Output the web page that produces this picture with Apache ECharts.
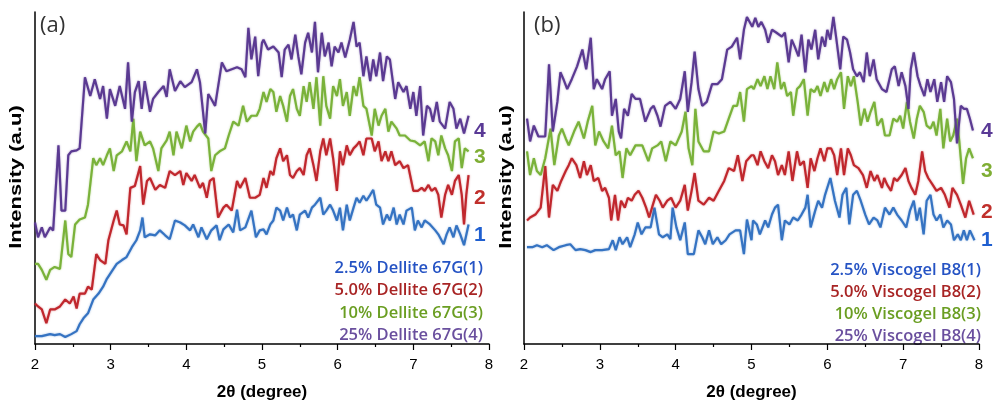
<!DOCTYPE html>
<html><head><meta charset="utf-8">
<script src="https://cdn.jsdelivr.net/npm/echarts@6/dist/echarts.min.js"></script>
<style>html,body{margin:0;padding:0;background:#fff}#c{width:994px;height:406px}</style>
</head><body><div id="c"></div>
<script>
// x ticks (degree)
const xTicks = [2, 3, 4, 5, 6, 7, 8];
const seriesNames = ['2.5% Dellite 67G(1)', '5.0% Dellite 67G(2)', '10% Dellite 67G(3)', '25% Dellite 67G(4)'];
const seriesNamesB = ['2.5% Viscogel B8(1)', '5.0% Viscogel B8(2)', '10% Viscogel B8(3)', '25% Viscogel B8(4)'];
const curveNums = ['1', '2', '3', '4'];

// Panel (a) — [2θ, intensity a.u.]
const a1 = [[2.00,8],[2.09,8],[2.20,10],[2.26,9],[2.33,10],[2.40,7],[2.48,10],[2.55,13],[2.59,20],[2.64,26],[2.70,31],[2.77,45],[2.84,51],[2.90,58],[2.95,66],[3.01,73],[3.08,81],[3.15,85],[3.21,88],[3.28,98],[3.34,105],[3.39,115],[3.42,128],[3.45,108],[3.52,111],[3.59,110],[3.65,115],[3.72,110],[3.78,106],[3.85,125],[3.92,123],[3.98,120],[4.05,115],[4.09,121],[4.16,108],[4.20,118],[4.27,106],[4.33,115],[4.40,120],[4.44,105],[4.49,116],[4.56,121],[4.62,113],[4.67,136],[4.71,115],[4.78,118],[4.86,135],[4.92,108],[4.97,115],[5.02,116],[5.06,111],[5.11,121],[5.15,125],[5.19,138],[5.24,135],[5.28,125],[5.33,138],[5.37,128],[5.41,131],[5.46,115],[5.50,131],[5.57,135],[5.61,128],[5.66,138],[5.70,141],[5.77,148],[5.81,131],[5.85,135],[5.90,141],[5.94,135],[5.99,125],[6.03,138],[6.07,115],[6.12,141],[6.16,125],[6.21,138],[6.25,148],[6.29,143],[6.34,150],[6.38,145],[6.43,151],[6.47,156],[6.51,141],[6.56,138],[6.60,121],[6.65,131],[6.69,125],[6.74,138],[6.78,121],[6.82,131],[6.87,121],[6.91,135],[6.98,138],[7.02,115],[7.06,125],[7.11,118],[7.15,125],[7.22,121],[7.29,115],[7.33,111],[7.40,101],[7.44,111],[7.48,118],[7.53,108],[7.57,120],[7.62,111],[7.67,100],[7.73,121]];
const a2 = [[2.00,41],[2.04,38],[2.09,35],[2.15,21],[2.20,35],[2.26,35],[2.33,38],[2.40,45],[2.46,41],[2.51,48],[2.55,36],[2.59,51],[2.66,51],[2.70,58],[2.75,55],[2.81,91],[2.86,85],[2.93,81],[2.97,105],[3.04,125],[3.08,135],[3.12,121],[3.17,120],[3.21,111],[3.26,158],[3.32,160],[3.39,180],[3.43,141],[3.48,165],[3.52,168],[3.59,156],[3.65,161],[3.72,158],[3.78,175],[3.85,171],[3.92,175],[3.96,161],[4.00,173],[4.07,165],[4.11,171],[4.18,158],[4.22,163],[4.27,148],[4.31,165],[4.36,168],[4.42,128],[4.49,138],[4.53,141],[4.60,135],[4.67,165],[4.71,158],[4.78,168],[4.84,148],[4.91,148],[4.97,151],[5.02,168],[5.06,158],[5.11,175],[5.15,171],[5.19,188],[5.24,198],[5.28,185],[5.33,191],[5.37,171],[5.41,168],[5.46,175],[5.50,178],[5.55,171],[5.59,191],[5.63,198],[5.68,181],[5.72,165],[5.77,195],[5.81,208],[5.85,191],[5.90,208],[5.94,188],[5.99,155],[6.03,195],[6.07,181],[6.12,201],[6.16,191],[6.21,198],[6.25,201],[6.29,205],[6.34,191],[6.38,208],[6.45,208],[6.49,195],[6.54,205],[6.58,185],[6.63,195],[6.67,185],[6.71,195],[6.76,181],[6.82,185],[6.87,178],[6.93,181],[7.00,155],[7.06,155],[7.11,158],[7.15,155],[7.20,161],[7.24,155],[7.29,158],[7.33,151],[7.37,128],[7.42,151],[7.46,161],[7.51,151],[7.55,165],[7.60,171],[7.64,151],[7.67,121],[7.70,151],[7.73,171]];
const a3 = [[2.00,81],[2.04,81],[2.09,75],[2.15,65],[2.20,75],[2.26,78],[2.33,76],[2.40,125],[2.44,91],[2.48,88],[2.53,121],[2.59,126],[2.66,128],[2.70,141],[2.77,188],[2.81,181],[2.86,188],[2.90,181],[2.95,191],[2.99,198],[3.04,175],[3.08,191],[3.15,195],[3.21,205],[3.26,195],[3.30,228],[3.34,185],[3.39,215],[3.45,201],[3.52,205],[3.56,198],[3.63,175],[3.67,198],[3.74,206],[3.78,215],[3.83,191],[3.87,215],[3.94,198],[4.00,221],[4.05,205],[4.09,215],[4.14,220],[4.18,223],[4.22,215],[4.29,208],[4.33,175],[4.38,191],[4.44,195],[4.51,198],[4.56,211],[4.62,225],[4.69,221],[4.75,241],[4.80,225],[4.86,231],[4.93,231],[4.97,238],[5.02,255],[5.06,245],[5.11,258],[5.15,255],[5.19,235],[5.24,251],[5.28,241],[5.33,225],[5.37,251],[5.41,258],[5.46,238],[5.50,231],[5.55,261],[5.59,245],[5.63,265],[5.68,238],[5.72,270],[5.77,221],[5.81,271],[5.85,241],[5.90,228],[5.94,261],[5.99,251],[6.03,268],[6.07,241],[6.12,255],[6.16,231],[6.21,261],[6.25,251],[6.29,270],[6.34,241],[6.38,238],[6.45,211],[6.49,238],[6.54,221],[6.58,231],[6.63,238],[6.67,215],[6.71,225],[6.78,218],[6.82,211],[6.89,211],[6.96,206],[7.02,205],[7.09,201],[7.15,205],[7.20,185],[7.24,208],[7.29,205],[7.33,191],[7.37,211],[7.42,198],[7.46,191],[7.51,175],[7.55,205],[7.60,208],[7.64,178],[7.68,198],[7.73,195]];
const a4 = [[2.00,123],[2.04,108],[2.09,118],[2.13,108],[2.20,118],[2.24,115],[2.31,201],[2.35,135],[2.40,135],[2.44,191],[2.48,195],[2.55,196],[2.59,198],[2.66,270],[2.73,251],[2.79,268],[2.86,248],[2.90,261],[2.95,228],[2.99,258],[3.06,241],[3.12,261],[3.19,238],[3.23,285],[3.28,225],[3.32,255],[3.37,266],[3.41,238],[3.45,266],[3.52,235],[3.56,248],[3.63,255],[3.70,261],[3.74,250],[3.78,278],[3.85,256],[3.92,266],[3.98,260],[4.07,265],[4.14,278],[4.18,265],[4.25,213],[4.29,253],[4.33,248],[4.38,241],[4.47,285],[4.53,276],[4.60,278],[4.67,280],[4.73,278],[4.78,270],[4.82,320],[4.86,288],[4.91,311],[4.95,271],[5.00,305],[5.02,308],[5.08,298],[5.15,301],[5.22,295],[5.26,270],[5.30,298],[5.35,303],[5.39,288],[5.44,313],[5.48,291],[5.52,273],[5.57,305],[5.61,315],[5.66,295],[5.70,326],[5.74,275],[5.79,315],[5.83,291],[5.88,305],[5.92,281],[5.96,301],[6.01,295],[6.05,305],[6.10,290],[6.16,308],[6.21,326],[6.25,301],[6.29,305],[6.34,271],[6.38,291],[6.43,266],[6.47,288],[6.51,271],[6.56,295],[6.60,266],[6.65,291],[6.69,288],[6.76,248],[6.80,265],[6.87,255],[6.91,261],[6.96,238],[7.00,255],[7.04,231],[7.09,261],[7.13,211],[7.18,241],[7.22,238],[7.26,225],[7.31,245],[7.35,225],[7.42,218],[7.48,245],[7.53,238],[7.57,218],[7.62,228],[7.67,213],[7.73,231]];

// Panel (b)
const b1 = [[2.04,98],[2.11,98],[2.17,100],[2.24,98],[2.30,100],[2.39,95],[2.46,98],[2.55,100],[2.61,101],[2.68,95],[2.74,96],[2.81,95],[2.88,93],[2.94,95],[3.03,95],[3.12,96],[3.17,105],[3.21,95],[3.26,108],[3.30,101],[3.36,108],[3.40,98],[3.46,111],[3.50,123],[3.55,111],[3.60,118],[3.67,118],[3.72,138],[3.78,111],[3.83,108],[3.89,111],[3.93,106],[3.96,138],[4.01,118],[4.06,105],[4.12,123],[4.16,91],[4.24,91],[4.30,115],[4.35,108],[4.39,101],[4.44,115],[4.49,101],[4.55,108],[4.60,101],[4.66,105],[4.71,111],[4.79,115],[4.85,115],[4.90,91],[4.94,126],[5.00,105],[5.02,125],[5.07,121],[5.11,111],[5.18,125],[5.22,118],[5.27,131],[5.31,138],[5.35,141],[5.40,105],[5.44,125],[5.50,121],[5.55,128],[5.61,125],[5.66,131],[5.71,138],[5.74,151],[5.78,118],[5.84,135],[5.88,145],[5.93,138],[5.97,151],[6.04,168],[6.10,145],[6.16,128],[6.20,151],[6.25,158],[6.29,121],[6.34,151],[6.39,155],[6.44,145],[6.50,131],[6.55,121],[6.61,128],[6.66,125],[6.70,118],[6.76,138],[6.82,131],[6.87,138],[6.92,131],[6.98,125],[7.04,118],[7.09,135],[7.14,145],[7.18,125],[7.22,138],[7.27,111],[7.31,145],[7.36,151],[7.40,131],[7.44,125],[7.49,131],[7.53,118],[7.58,125],[7.63,121],[7.67,105],[7.72,111],[7.76,105],[7.80,115],[7.84,105],[7.88,115],[7.94,105]];
const b2 = [[2.04,125],[2.08,128],[2.15,131],[2.22,138],[2.28,180],[2.33,128],[2.38,161],[2.44,155],[2.49,165],[2.55,175],[2.59,181],[2.63,188],[2.69,181],[2.74,168],[2.79,185],[2.83,171],[2.88,181],[2.92,165],[2.98,168],[3.03,155],[3.07,158],[3.12,148],[3.15,125],[3.20,151],[3.24,125],[3.28,145],[3.33,138],[3.37,148],[3.42,145],[3.46,151],[3.51,155],[3.56,148],[3.61,138],[3.65,128],[3.70,141],[3.74,151],[3.79,145],[3.83,138],[3.89,145],[3.94,148],[4.00,138],[4.06,145],[4.12,161],[4.16,135],[4.21,155],[4.25,173],[4.30,145],[4.37,141],[4.44,148],[4.50,145],[4.57,155],[4.64,165],[4.70,178],[4.77,175],[4.82,191],[4.88,165],[4.93,185],[5.00,191],[5.03,191],[5.08,181],[5.12,195],[5.17,185],[5.22,178],[5.27,191],[5.31,185],[5.35,171],[5.40,181],[5.44,171],[5.49,195],[5.54,165],[5.60,195],[5.64,181],[5.69,185],[5.74,158],[5.78,188],[5.83,175],[5.87,188],[5.91,198],[5.96,185],[6.00,198],[6.05,198],[6.09,191],[6.13,171],[6.18,198],[6.22,171],[6.27,198],[6.31,191],[6.35,181],[6.41,178],[6.47,171],[6.52,158],[6.57,175],[6.62,165],[6.66,171],[6.72,158],[6.75,168],[6.79,161],[6.84,155],[6.88,168],[6.92,165],[6.98,171],[7.03,178],[7.07,165],[7.11,158],[7.16,151],[7.20,165],[7.25,195],[7.29,175],[7.33,168],[7.39,161],[7.44,155],[7.50,158],[7.55,151],[7.61,138],[7.65,158],[7.71,151],[7.76,141],[7.82,128],[7.87,145],[7.93,131]];
const b3 = [[2.04,195],[2.08,171],[2.13,188],[2.17,175],[2.22,171],[2.28,188],[2.35,218],[2.40,181],[2.46,211],[2.50,218],[2.55,208],[2.59,201],[2.66,215],[2.72,225],[2.79,208],[2.84,225],[2.90,241],[2.94,201],[2.99,215],[3.05,205],[3.11,198],[3.16,221],[3.21,191],[3.26,195],[3.30,168],[3.35,198],[3.40,191],[3.47,201],[3.56,201],[3.64,185],[3.69,198],[3.76,201],[3.81,205],[3.87,185],[3.93,205],[4.00,201],[4.08,215],[4.13,235],[4.17,198],[4.22,181],[4.26,238],[4.30,205],[4.37,195],[4.44,195],[4.50,215],[4.57,213],[4.64,215],[4.70,228],[4.76,241],[4.81,241],[4.85,255],[4.90,225],[4.94,258],[5.00,261],[5.03,258],[5.08,268],[5.12,261],[5.17,271],[5.21,258],[5.25,271],[5.30,258],[5.34,285],[5.39,258],[5.43,265],[5.47,251],[5.52,255],[5.55,231],[5.60,258],[5.64,261],[5.69,268],[5.74,231],[5.78,258],[5.83,255],[5.87,261],[5.91,251],[5.96,265],[6.00,255],[6.05,268],[6.09,258],[6.13,268],[6.18,275],[6.22,238],[6.27,271],[6.31,261],[6.35,271],[6.40,245],[6.44,221],[6.49,238],[6.53,225],[6.57,235],[6.62,245],[6.66,221],[6.72,228],[6.76,211],[6.82,211],[6.87,228],[6.92,225],[6.96,231],[7.00,218],[7.05,245],[7.09,225],[7.14,208],[7.18,228],[7.22,241],[7.27,235],[7.31,221],[7.36,218],[7.40,225],[7.44,211],[7.49,238],[7.53,198],[7.58,228],[7.62,205],[7.66,211],[7.71,228],[7.74,205],[7.79,162],[7.83,188],[7.87,198],[7.92,188]];
const b4 = [[2.04,228],[2.08,205],[2.13,221],[2.19,210],[2.28,210],[2.33,283],[2.38,215],[2.44,245],[2.48,275],[2.52,268],[2.57,258],[2.63,268],[2.70,281],[2.77,298],[2.82,278],[2.88,310],[2.92,258],[2.96,268],[3.03,258],[3.07,268],[3.13,276],[3.16,231],[3.21,248],[3.25,215],[3.28,208],[3.32,238],[3.37,231],[3.42,253],[3.47,248],[3.53,248],[3.60,225],[3.67,238],[3.71,241],[3.76,231],[3.80,220],[3.86,241],[3.93,245],[4.00,238],[4.06,248],[4.12,276],[4.16,235],[4.21,265],[4.25,296],[4.30,258],[4.35,241],[4.41,245],[4.48,263],[4.55,263],[4.61,268],[4.68,298],[4.74,301],[4.81,310],[4.85,288],[4.90,318],[4.94,331],[5.01,321],[5.05,330],[5.09,321],[5.13,326],[5.18,318],[5.22,305],[5.27,318],[5.33,315],[5.40,311],[5.44,315],[5.49,285],[5.53,308],[5.57,301],[5.62,291],[5.66,313],[5.71,275],[5.75,308],[5.79,298],[5.84,318],[5.88,288],[5.93,311],[5.97,301],[6.00,318],[6.04,308],[6.08,331],[6.12,308],[6.17,278],[6.21,311],[6.26,308],[6.30,295],[6.34,278],[6.39,271],[6.43,275],[6.48,265],[6.52,295],[6.56,271],[6.61,288],[6.65,268],[6.72,258],[6.78,255],[6.85,278],[6.89,281],[6.94,261],[6.98,275],[7.03,261],[7.07,238],[7.10,278],[7.14,295],[7.19,271],[7.23,261],[7.28,251],[7.32,268],[7.36,255],[7.41,268],[7.45,245],[7.50,265],[7.54,245],[7.58,271],[7.63,265],[7.67,248],[7.71,203],[7.76,241],[7.80,238],[7.84,238],[7.88,228],[7.92,216]];

const lineColors = ['#3573c2', '#c0272d', '#7ab23a', '#5b3a92'];
const numColors = ['#1f5fd0', '#c0302c', '#7fae34', '#5a3a96'];
const legendColors = ['#2553c4', '#a82424', '#6a9e22', '#6a4f9e'];

const chart = echarts.init(document.getElementById('c'), null, {renderer: 'canvas'});

function xAxisCfg(gi) {
  return {
    type: 'value', gridIndex: gi, min: 2, max: 8, interval: 1,
    name: '2θ (degree)', nameLocation: 'middle', nameGap: 40,
    nameTextStyle: {color: '#000', fontSize: 17, fontWeight: 'bold', fontFamily: 'Liberation Sans'},
    axisLine: {show: true, onZero: false, lineStyle: {color: '#000', width: 1.5}},
    axisTick: {show: true, length: 6, lineStyle: {color: '#000', width: 1.2}},
    minorTick: {show: true, splitNumber: 2, length: 3, lineStyle: {color: '#000', width: 1.2}},
    axisLabel: {color: '#000', fontSize: 15, fontFamily: 'Liberation Sans', margin: 13,
      formatter: v => (xTicks.indexOf(v) >= 0 ? String(v) : '')},
    splitLine: {show: false}
  };
}
function yAxisCfg(gi) {
  return {
    type: 'value', gridIndex: gi, min: 0, max: 336,
    axisLine: {show: true, lineStyle: {color: '#000', width: 1.5}},
    axisTick: {show: false}, axisLabel: {show: false}, splitLine: {show: false}
  };
}
function mk(data, ci, gi) {
  return {type: 'line', data: data, xAxisIndex: gi, yAxisIndex: gi, showSymbol: false, symbol: 'none',
    lineStyle: {color: lineColors[ci], width: 2.2, shadowBlur: 2, shadowColor: lineColors[ci] + '88'},
    itemStyle: {color: lineColors[ci]}, silent: true, animation: false, z: 2 + ci};
}

const graphics = [];
graphics.push({type: 'text', x: 40, y: 26, style: {text: '(a)', font: '22px "Open Sans"', fill: '#333', textVerticalAlign: 'middle'}});
graphics.push({type: 'text', x: 534, y: 26, style: {text: '(b)', font: '22px "Open Sans"', fill: '#333', textVerticalAlign: 'middle'}});
graphics.push({type: 'text', x: 16, y: 177, rotation: Math.PI / 2, scaleX: 1.3,
  style: {text: 'Intensity (a.u)', font: 'bold 17px "Liberation Sans"', fill: '#000', textAlign: 'center', textVerticalAlign: 'middle'}});
graphics.push({type: 'text', x: 506, y: 177, rotation: Math.PI / 2, scaleX: 1.3,
  style: {text: 'Intensity (a.u)', font: 'bold 17px "Liberation Sans"', fill: '#000', textAlign: 'center', textVerticalAlign: 'middle'}});
const numYA = [235, 198, 157, 131];
const numYB = [240, 212, 171, 131];
for (let i = 0; i < 4; i++) {
  graphics.push({type: 'text', x: 474, y: numYA[i], style: {text: curveNums[i], font: 'bold 21px "Liberation Sans"', fill: numColors[i], textVerticalAlign: 'middle'}});
  graphics.push({type: 'text', x: 981, y: numYB[i], style: {text: curveNums[i], font: 'bold 21px "Liberation Sans"', fill: numColors[i], textVerticalAlign: 'middle'}});
}
const legYA = [268, 290, 313, 335];
const legYB = [270, 292, 314, 336];
for (let i = 0; i < 4; i++) {
  graphics.push({type: 'text', x: 483, y: legYA[i], style: {text: seriesNames[i], font: '600 16.5px "Open Sans"', fill: legendColors[i], textAlign: 'right', textVerticalAlign: 'middle'}});
  graphics.push({type: 'text', x: 981, y: legYB[i], style: {text: seriesNamesB[i], font: '600 16.5px "Open Sans"', fill: legendColors[i], textAlign: 'right', textVerticalAlign: 'middle'}});
}

chart.setOption({
  animation: false,
  backgroundColor: '#fff',
  grid: [
    {left: 35, right: 505, top: 12, bottom: 58},
    {left: 524, right: 15, top: 12, bottom: 58}
  ],
  xAxis: [xAxisCfg(0), xAxisCfg(1)],
  yAxis: [yAxisCfg(0), yAxisCfg(1)],
  series: [mk(a1, 0, 0), mk(a2, 1, 0), mk(a3, 2, 0), mk(a4, 3, 0), mk(b1, 0, 1), mk(b2, 1, 1), mk(b3, 2, 1), mk(b4, 3, 1)],
  graphic: graphics
});
</script></body></html>
